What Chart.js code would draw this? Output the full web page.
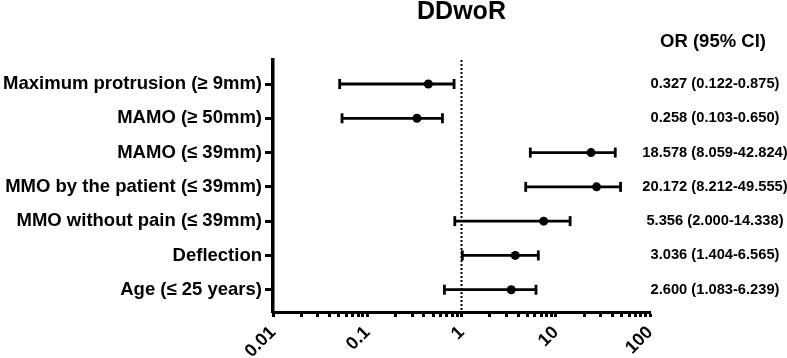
<!DOCTYPE html>
<html>
<head>
<meta charset="utf-8">
<script src="https://cdn.jsdelivr.net/npm/chart.js@4/dist/chart.umd.min.js"></script>
<style>
  html, body { margin: 0; padding: 0; background: #ffffff; }
  #wrap { position: relative; width: 787px; height: 358px; }
</style>
</head>
<body>
<div id="wrap"><canvas id="c"></canvas></div>
<script>
// ---- data ----
const titleText = 'DDwoR';
const columnHeader = 'OR (95% CI)';
const categories = [
  'Maximum protrusion (\u2265 9mm)',
  'MAMO (\u2265 50mm)',
  'MAMO (\u2264 39mm)',
  'MMO by the patient (\u2264 39mm)',
  'MMO without pain (\u2264 39mm)',
  'Deflection',
  'Age (\u2264 25 years)'
];
// values as drawn on the plot
const orPoint = [0.445, 0.337, 23.7, 27.1, 7.45, 3.72, 3.37];
const ciLow   = [0.051, 0.054, 5.37, 4.80, 0.849, 1.02, 0.659];
const ciHigh  = [0.834, 0.628, 42.8, 48.7, 14.2, 6.53, 6.17];
// text column
const orText = [
  '0.327 (0.122-0.875)',
  '0.258 (0.103-0.650)',
  '18.578 (8.059-42.824)',
  '20.172 (8.212-49.555)',
  '5.356 (2.000-14.338)',
  '3.036 (1.404-6.565)',
  '2.600 (1.083-6.239)'
];
const referenceValue = 1;
const xMin = 0.01, xMax = 100;
const xDecades = [0.01, 0.1, 1, 10, 100];
const xTickLabels = ['0.01', '0.1', '1', '10', '100'];

// ---- build datasets ----
const rowPos = categories.map((c, i) => i + 1);
const ciData = [];
categories.forEach((c, i) => {
  ciData.push({x: ciLow[i], y: rowPos[i]});
  ciData.push({x: ciHigh[i], y: rowPos[i]});
  ciData.push({x: null, y: null});
});
const pointData = categories.map((c, i) => ({x: orPoint[i], y: rowPos[i]}));
const yMin = 0.3, yMax = 7.65;
const refData = [{x: referenceValue, y: yMin}, {x: referenceValue, y: yMax}];

// log minor ticks: 1..9 per decade
const xTickValues = [];
for (let d = 0; d < xDecades.length - 1; d++) {
  for (let m = 1; m <= 9; m++) xTickValues.push(+(xDecades[d] * m).toPrecision(3));
}
xTickValues.push(xDecades[xDecades.length - 1]);

const FONT = '"Liberation Sans", Arial, Helvetica, sans-serif';

const textColumn = {
  id: 'textColumn',
  afterDraw(chart) {
    const ctx = chart.ctx;
    const ys = chart.scales.y;
    const area = chart.chartArea;
    const cx = area.right + 65;
    ctx.save();
    ctx.fillStyle = '#000';
    ctx.textAlign = 'center';
    ctx.textBaseline = 'middle';
    ctx.font = 'bold 18.5px ' + FONT;
    ctx.fillText(columnHeader, area.right + 63, area.top - 18);
    ctx.font = 'bold 14.7px ' + FONT;
    orText.forEach((t, i) => {
      ctx.fillText(t, cx, ys.getPixelForValue(rowPos[i]));
    });
    ctx.restore();
  }
};

new Chart(document.getElementById('c'), {
  type: 'scatter',
  data: {
    datasets: [
      {
        label: 'OR',
        data: pointData,
        showLine: false,
        pointRadius: 4.5,
        pointBackgroundColor: '#000',
        pointBorderColor: '#000',
        pointBorderWidth: 0,
        order: 0
      },
      {
        label: '95% CI',
        data: ciData,
        showLine: true,
        spanGaps: false,
        borderColor: '#000',
        borderWidth: 2.8,
        pointStyle: 'line',
        rotation: 90,
        pointRadius: 5,
        pointBorderWidth: 2.8,
        pointBorderColor: '#000',
        order: 1
      },
      {
        label: 'ref',
        data: refData,
        showLine: true,
        borderColor: '#000',
        borderWidth: 2,
        borderDash: [2, 2],
        pointRadius: 0,
        order: 2
      }
    ]
  },
  options: {
    responsive: true,
    maintainAspectRatio: false,
    animation: false,
    layout: { padding: { left: 0, right: 137, top: 0, bottom: 0 } },
    plugins: {
      legend: { display: false },
      tooltip: { enabled: false },
      title: {
        display: true,
        text: titleText,
        fullSize: false,
        color: '#000',
        font: { family: FONT, size: 25, weight: 'bold', lineHeight: 1 },
        padding: { top: 0, bottom: 35 }
      }
    },
    scales: {
      x: {
        type: 'logarithmic',
        min: xMin,
        max: xMax,
        afterBuildTicks(scale) {
          scale.ticks = xTickValues.map(v => ({value: v, major: xDecades.includes(v)}));
        },
        afterFit(scale) { scale.height = 46; },
        border: { display: true, color: '#000', width: 3 },
        grid: {
          drawOnChartArea: false,
          drawTicks: true,
          tickLength: 5,
          tickWidth: 3,
          tickColor: '#000'
        },
        ticks: {
          autoSkip: false,
          minRotation: 45,
          maxRotation: 45,
          padding: 5,
          color: '#000',
          font: { family: FONT, size: 18, weight: 'bold' },
          callback(value) {
            const k = xDecades.indexOf(value);
            return k >= 0 ? xTickLabels[k] : '';
          }
        }
      },
      y: {
        type: 'linear',
        reverse: true,
        min: yMin,
        max: yMax,
        afterBuildTicks(scale) {
          scale.ticks = rowPos.map(v => ({value: v}));
        },
        afterFit(scale) { scale.width = 273; },
        border: { display: true, color: '#000', width: 3.5 },
        grid: {
          drawOnChartArea: false,
          drawTicks: true,
          tickLength: 8,
          tickWidth: 3,
          tickColor: '#000'
        },
        ticks: {
          autoSkip: false,
          padding: 3,
          color: '#000',
          font: { family: FONT, size: 18.5, weight: 'bold' },
          callback(value, index) { return categories[index]; }
        }
      }
    }
  },
  plugins: [textColumn]
});
</script>
</body>
</html>
